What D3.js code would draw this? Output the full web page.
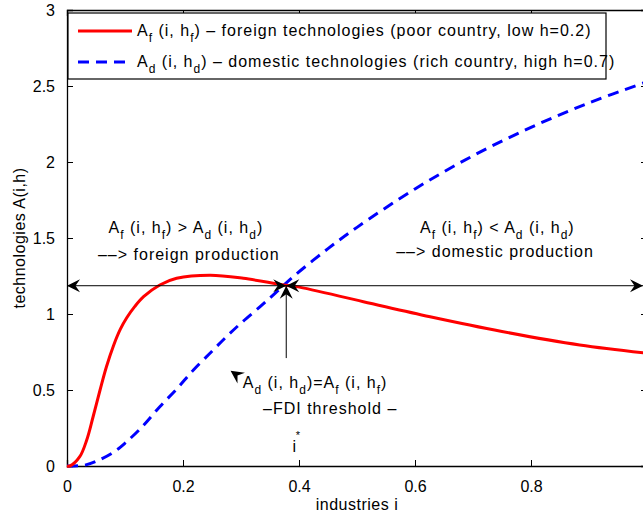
<!DOCTYPE html>
<html>
<head>
<meta charset="utf-8">
<script src="https://cdn.jsdelivr.net/npm/d3@7"></script>
<style>
  body { margin: 0; background: #fff; overflow: hidden; }
  text { font-family: "Liberation Sans", Arial, sans-serif; }
</style>
</head>
<body>
<div id="chart"></div>
<script>
const redX = [0, 0.005, 0.022, 0.034, 0.045, 0.057, 0.068, 0.08, 0.092, 0.103, 0.117, 0.132, 0.16, 0.189, 0.247, 0.304, 0.373, 0.396, 0.511, 0.626, 0.75, 0.884, 1.0];
const redY = [0, 0.0, 0.061, 0.171, 0.324, 0.5, 0.653, 0.79, 0.9, 0.975, 1.05, 1.114, 1.191, 1.235, 1.255, 1.235, 1.191, 1.18, 1.081, 0.982, 0.885, 0.796, 0.742];
const blueX = [0, 0.03, 0.05, 0.08, 0.1, 0.13, 0.16, 0.19, 0.218, 0.25, 0.275, 0.3, 0.333, 0.36, 0.39, 0.45, 0.5, 0.6, 0.7, 0.8, 0.9, 1.0];
const blueY = [0, 0.005, 0.03, 0.09, 0.15, 0.26, 0.39, 0.51, 0.632, 0.755, 0.851, 0.94, 1.048, 1.14, 1.245, 1.43, 1.57, 1.823, 2.041, 2.228, 2.389, 2.528];
const xTicks = [0, 0.2, 0.4, 0.6, 0.8, 1];
const xLabels = ["0", "0.2", "0.4", "0.6", "0.8", ""];
const yTicks = [0, 0.5, 1, 1.5, 2, 2.5, 3];
const crossX = 0.378, crossY = 1.186;   // FDI threshold i*
const vArrowFrom = 0.71;

const W = 643, H = 520;
const margin = {top: 10, right: -4, bottom: 54, left: 67};
const w = W - margin.left - margin.right, h = H - margin.top - margin.bottom;

const svg = d3.select("#chart").append("svg")
  .attr("width", W).attr("height", H);
const g = svg.append("g").attr("transform", `translate(${margin.left},${margin.top})`);

const x = d3.scaleLinear().domain([0, 1]).range([0, w]);
const y = d3.scaleLinear().domain([0, 3]).range([h, 0]);

// axes, matlab style: ticks inside, box all round
g.append("g").attr("transform", `translate(0,${h})`)
  .call(d3.axisBottom(x).tickValues(xTicks).tickSize(-6).tickPadding(15).tickFormat((d, i) => xLabels[i]));
g.append("g")
  .call(d3.axisTop(x).tickValues(xTicks).tickSize(-6).tickFormat(""));
g.append("g")
  .call(d3.axisLeft(y).tickValues(yTicks).tickSize(-6).tickPadding(12).tickFormat(d3.format("")));
g.append("g").attr("transform", `translate(${w},0)`)
  .call(d3.axisRight(y).tickValues(yTicks).tickSize(-6).tickFormat(""));
g.selectAll(".domain").attr("stroke", "#000").attr("stroke-width", 1.3);
g.selectAll(".tick line").attr("stroke", "#000");
g.selectAll(".tick text").attr("font-size", 16).attr("fill", "#000")
  .style("font-family", "Liberation Sans, Arial, sans-serif");

// curves
const line = d3.line().x(d => x(d[0])).y(d => y(d[1])).curve(d3.curveCatmullRom.alpha(0.5));
g.append("path").datum(blueX.map((v, i) => [v, blueY[i]]))
  .attr("d", line).attr("fill", "none").attr("stroke", "#0000ff")
  .attr("stroke-width", 3).attr("stroke-dasharray", "11,7");
g.append("path").datum(redX.map((v, i) => [v, redY[i]]))
  .attr("d", line).attr("fill", "none").attr("stroke", "#ff0000")
  .attr("stroke-width", 3);

// arrows
function head(px, py, ang) {
  g.append("path")
    .attr("d", "M0,0L-13,-6.5L-8.5,0L-13,6.5Z")
    .attr("transform", `translate(${px},${py}) rotate(${ang})`)
    .attr("fill", "#000");
}
const cx = x(crossX), cy = y(crossY);
g.append("line").attr("x1", x(0)).attr("x2", x(1)).attr("y1", cy).attr("y2", cy)
  .attr("stroke", "#000").attr("stroke-width", 1);
head(x(0), cy, 180);
head(cx, cy, 0);
head(cx, cy, 180);
head(x(1) - 4, cy, 0);
g.append("line").attr("x1", cx).attr("x2", cx).attr("y1", y(vArrowFrom)).attr("y2", cy)
  .attr("stroke", "#000").attr("stroke-width", 1);
head(cx, cy, -90);
head(x(0.282), y(0.627), -145);

// text with subscripts
function rich(px, py, parts, anchor) {
  const t = g.append("text").attr("x", px).attr("y", py)
    .attr("text-anchor", anchor || "start").attr("font-size", 16)
    .style("letter-spacing", "1px");
  let cur = 0;
  parts.forEach(p => {
    const sub = typeof p !== "string";
    const s = sub ? p[0] : p;
    const target = sub ? 6 : 0;
    t.append("tspan").attr("dy", target - cur).attr("font-size", sub ? 12 : 16).text(s);
    cur = target;
  });
  return t;
}

// legend
g.append("rect").attr("x", 1).attr("y", 3).attr("width", 538).attr("height", 66)
  .attr("fill", "#fff").attr("stroke", "#000").attr("stroke-width", 1.2);
g.append("line").attr("x1", 11).attr("x2", 65).attr("y1", 21).attr("y2", 21)
  .attr("stroke", "#ff0000").attr("stroke-width", 3);
g.append("line").attr("x1", 11).attr("x2", 65).attr("y1", 52).attr("y2", 52)
  .attr("stroke", "#0000ff").attr("stroke-width", 3).attr("stroke-dasharray", "11,7");
rich(70, 26, ["A", ["f"], " (i, h", ["f"], ") \u2013 foreign technologies (poor country, low h=0.2)"]);
rich(70, 57, ["A", ["d"], " (i, h", ["d"], ") \u2013 domestic technologies (rich country, high h=0.7)"]);

// annotations
rich(x(0.205), 223, ["A", ["f"], " (i, h", ["f"], ") > A", ["d"], " (i, h", ["d"], ")"], "middle");
rich(x(0.21), 250, ["\u2013\u2013> foreign production"], "middle");
rich(x(0.742), 223, ["A", ["f"], " (i, h", ["f"], ") < A", ["d"], " (i, h", ["d"], ")"], "middle");
rich(x(0.738), 247, ["\u2013\u2013> domestic production"], "middle");
rich(x(0.303), 378, ["A", ["d"], " (i, h", ["d"], ")=A", ["f"], " (i, h", ["f"], ")"]);
rich(x(0.338), 404, ["\u2013FDI threshold \u2013"]);
g.append("text").attr("x", x(0.392)).attr("y", 442).attr("font-size", 16).attr("text-anchor", "middle").text("i");
g.append("text").attr("x", x(0.398)).attr("y", 429).attr("font-size", 11).attr("text-anchor", "middle").text("*");

// axis labels
svg.append("text").attr("x", margin.left + x(0.5)).attr("y", 510)
  .attr("text-anchor", "middle").attr("font-size", 16).style("letter-spacing", "0.5px").text("industries i");
svg.append("text").attr("transform", `translate(25,${margin.top + h / 2}) rotate(-90)`)
  .attr("text-anchor", "middle").attr("font-size", 16).style("letter-spacing", "0.5px").text("technologies A(i,h)");
</script>
</body>
</html>
